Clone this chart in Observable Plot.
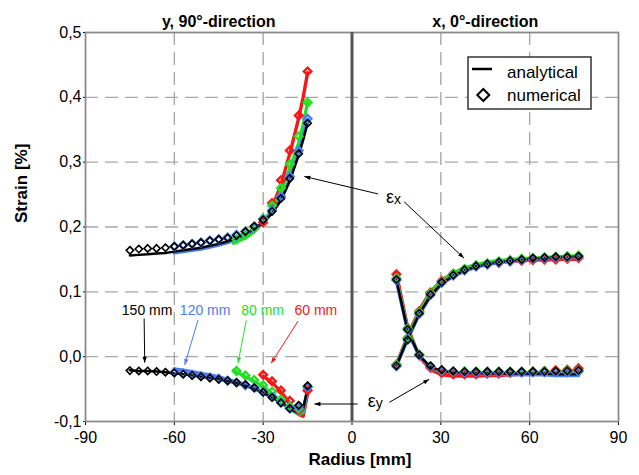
<!DOCTYPE html>
<html><head><meta charset="utf-8">
<script src="https://cdn.jsdelivr.net/npm/d3@7"></script>
<script src="https://cdn.jsdelivr.net/npm/@observablehq/plot@0.6"></script>
<style>
body{margin:0;background:#fff;}
#wrap{position:relative;width:639px;height:475px;}
#legend{position:absolute;left:467px;top:56px;}
</style></head><body>
<div id="wrap"></div>
<script>
// ---------- tick values ----------
const xTicks = [-90, -60, -30, 0, 30, 60, 90];
const yTicks = [-0.1, 0, 0.1, 0.2, 0.3, 0.4, 0.5];
const gridX = [-60, -30, 30, 60];
const gridY = [0, 0.1, 0.2, 0.3, 0.4];
const panelTitles = ["y, 90°-direction", "x, 0°-direction"];
const panelTitleR = [-45, 45];

// ---------- plate sizes ----------
const sizeLabels = ["150 mm", "120 mm", "80 mm", "60 mm"];
const sizeColors = ["#000000", "#4a7df5", "#22e022", "#f51818"];

// ---------- left panel (y, 90°-direction), radius in mm ----------
const rLeftNum150 = [-75,-72,-69,-66,-63,-60,-57,-54,-51,-48,-45,-42,-39,-36,-33,-30,-27,-24,-21,-18,-15];
const exLeftNum150 = [0.164,0.166,0.167,0.167,0.168,0.170,0.172,0.174,0.176,0.179,0.181,0.183,0.187,0.193,0.201,0.211,0.224,0.244,0.275,0.313,0.360];
const eyLeftNum150 = [-0.0215,-0.022,-0.022,-0.023,-0.024,-0.025,-0.027,-0.029,-0.031,-0.033,-0.035,-0.037,-0.040,-0.043,-0.048,-0.055,-0.063,-0.071,-0.080,-0.075,-0.045];
const rLeftAna150 = [-75,-72,-69,-66,-63,-60,-57,-54,-51,-48,-45,-42,-39,-36,-33,-30,-27,-24,-21,-18,-16.5,-15];
const exLeftAna150 = [0.156,0.157,0.158,0.159,0.160,0.162,0.164,0.166,0.168,0.171,0.174,0.178,0.183,0.189,0.197,0.207,0.221,0.241,0.271,0.311,0.334,0.360];
const eyLeftAna150 = [-0.021,-0.022,-0.022,-0.023,-0.024,-0.026,-0.027,-0.029,-0.031,-0.033,-0.035,-0.038,-0.041,-0.045,-0.050,-0.056,-0.063,-0.071,-0.080,-0.087,-0.080,-0.050];

const rLeftNum120 = [-60,-57,-54,-51,-48,-45,-42,-39,-36,-33,-30,-27,-24,-21,-18,-15];
const exLeftNum120 = [0.170,0.172,0.174,0.176,0.179,0.181,0.184,0.188,0.193,0.201,0.212,0.226,0.247,0.278,0.318,0.367];
const eyLeftNum120 = [-0.024,-0.026,-0.028,-0.030,-0.032,-0.034,-0.037,-0.040,-0.044,-0.048,-0.054,-0.062,-0.071,-0.080,-0.077,-0.047];
const rLeftAna120 = [-60,-57,-54,-51,-48,-45,-42,-39,-36,-33,-30,-27,-24,-21,-18,-16.5,-15];
const exLeftAna120 = [0.160,0.162,0.164,0.166,0.169,0.172,0.176,0.181,0.187,0.196,0.207,0.222,0.243,0.274,0.316,0.340,0.366];
const eyLeftAna120 = [-0.019,-0.021,-0.023,-0.026,-0.028,-0.031,-0.035,-0.039,-0.043,-0.048,-0.055,-0.062,-0.071,-0.080,-0.088,-0.082,-0.052];

const rLeftNum80 = [-39,-36,-33,-30,-27,-24,-21,-18,-15];
const exLeftNum80 = [0.181,0.188,0.198,0.213,0.233,0.260,0.297,0.340,0.392];
const eyLeftNum80 = [-0.022,-0.029,-0.036,-0.044,-0.054,-0.066,-0.077,-0.080,-0.046];
const rLeftAna80 = [-40,-36,-33,-30,-27,-24,-21,-18,-16.5,-15];
const exLeftAna80 = [0.175,0.183,0.193,0.207,0.227,0.255,0.290,0.330,0.358,0.392];
const eyLeftAna80 = [-0.021,-0.031,-0.038,-0.046,-0.057,-0.069,-0.081,-0.089,-0.086,-0.050];

const rLeftNum60 = [-30,-27,-24,-21,-18,-15];
const exLeftNum60 = [0.207,0.237,0.272,0.318,0.372,0.440];
const eyLeftNum60 = [-0.028,-0.038,-0.052,-0.068,-0.082,-0.052];
const rLeftAna60 = [-30,-27,-24,-21,-18,-16.5,-15];
const exLeftAna60 = [0.203,0.230,0.265,0.313,0.368,0.400,0.438];
const eyLeftAna60 = [-0.030,-0.040,-0.054,-0.072,-0.089,-0.092,-0.057];

// ---------- right panel (x, 0°-direction) ----------
const rRight = [15,18.8,22.7,26.5,30.3,34.2,38,41.9,45.7,49.6,53.4,57.3,61.1,65,68.8,72.7,76.5];
const exRightAna150 = [-0.014,0.028,0.066,0.094,0.113,0.125,0.133,0.139,0.143,0.146,0.148,0.150,0.151,0.152,0.153,0.154,0.154];
const eyRightAna150 = [0.118,0.040,0.002,-0.016,-0.022,-0.024,-0.025,-0.025,-0.026,-0.026,-0.026,-0.026,-0.026,-0.026,-0.027,-0.027,-0.027];
const exRightNum150 = [-0.014,0.026,0.067,0.096,0.115,0.126,0.134,0.140,0.143,0.146,0.148,0.150,0.152,0.153,0.154,0.154,0.155];
const eyRightNum150 = [0.119,0.042,0.003,-0.014,-0.020,-0.022,-0.023,-0.023,-0.023,-0.023,-0.023,-0.023,-0.023,-0.023,-0.022,-0.022,-0.021];

const exRightAna120 = [-0.015,0.027,0.065,0.093,0.112,0.124,0.132,0.138,0.142,0.145,0.147,0.149,0.150,0.151,0.152,0.153,0.153];
const eyRightAna120 = [0.117,0.039,0.001,-0.017,-0.023,-0.025,-0.026,-0.027,-0.027,-0.027,-0.028,-0.028,-0.028,-0.028,-0.029,-0.029,-0.029];
const exRightNum120 = [-0.015,0.026,0.066,0.095,0.114,0.125,0.133,0.139,0.142,0.145,0.147,0.149,0.151,0.152,0.153,0.153,0.154];
const eyRightNum120 = [0.118,0.041,0.002,-0.015,-0.021,-0.023,-0.024,-0.024,-0.024,-0.024,-0.024,-0.024,-0.024,-0.024,-0.024,-0.024,-0.023];

const exRightAna80 = [-0.013,0.030,0.069,0.098,0.117,0.129,0.137,0.142,0.146,0.148,0.150,0.151,0.152,0.153,0.154,0.155,0.155];
const eyRightAna80 = [0.120,0.041,0.002,-0.017,-0.023,-0.025,-0.025,-0.025,-0.025,-0.025,-0.025,-0.025,-0.025,-0.025,-0.025,-0.025,-0.025];
const exRightNum80 = [-0.013,0.028,0.068,0.097,0.116,0.127,0.135,0.141,0.144,0.147,0.149,0.151,0.152,0.153,0.154,0.155,0.156];
const eyRightNum80 = [0.121,0.043,0.003,-0.015,-0.021,-0.023,-0.023,-0.023,-0.023,-0.023,-0.023,-0.023,-0.023,-0.023,-0.023,-0.022,-0.021];

const exRightAna60 = [-0.012,0.032,0.072,0.100,0.118,0.129,0.136,0.141,0.144,0.146,0.147,0.148,0.149,0.149,0.150,0.150,0.150];
const eyRightAna60 = [0.128,0.045,0.000,-0.020,-0.028,-0.030,-0.030,-0.030,-0.029,-0.029,-0.028,-0.027,-0.026,-0.025,-0.024,-0.023,-0.021];
const exRightNum60 = [-0.012,0.029,0.070,0.099,0.117,0.128,0.135,0.140,0.143,0.145,0.147,0.148,0.149,0.150,0.150,0.151,0.152];
const eyRightNum60 = [0.127,0.044,0.002,-0.017,-0.025,-0.027,-0.027,-0.027,-0.026,-0.026,-0.025,-0.024,-0.023,-0.022,-0.021,-0.020,-0.018];

// ---------- annotations (data units) ----------
const labelR = [-69.2, -49.6, -30.2, -12.2];
const labelS = [0.071, 0.071, 0.071, 0.071];
const sizeArrowR1 = [-70.2, -52.0, -35.7, -18.2];
const sizeArrowS1 = [0.059, 0.0566, 0.056, 0.055];
const sizeArrowR2 = [-70.0, -56.5, -38.5, -27.3];
const sizeArrowS2 = [-0.0093, -0.0128, -0.0102, -0.0102];

const strainSymbols = ["ε", "ε"];
const strainSubs = ["x", "y"];
const strainR = [12.8, 6.7];
const strainS = [0.2465, -0.068];
const strainArrowR1 = [8.8, 17.6, 12.6, 1.9];
const strainArrowS1 = [0.251, 0.239, -0.0704, -0.073];
const strainArrowR2 = [-16.1, 37.8, 26.1, -12.7];
const strainArrowS2 = [0.278, 0.152, -0.0349, -0.073];

const legendLabels = ["analytical", "numerical"];

// ---------- build tables ----------
const FONT = "'Liberation Sans', Arial, Helvetica, sans-serif";
function pts(r, s, part) { return r.map((x, i) => ({r: x, s: s[i], part})); }

const groups = [
  {i: 0, ana: [...pts(rLeftAna150, exLeftAna150, "Lx"), ...pts(rLeftAna150, eyLeftAna150, "Ly"), ...pts(rRight, exRightAna150, "Rx"), ...pts(rRight, eyRightAna150, "Ry")],
          num: [...pts(rLeftNum150, exLeftNum150), ...pts(rLeftNum150, eyLeftNum150), ...pts(rRight, exRightNum150), ...pts(rRight, eyRightNum150)]},
  {i: 1, ana: [...pts(rLeftAna120, exLeftAna120, "Lx"), ...pts(rLeftAna120, eyLeftAna120, "Ly"), ...pts(rRight, exRightAna120, "Rx"), ...pts(rRight, eyRightAna120, "Ry")],
          num: [...pts(rLeftNum120, exLeftNum120), ...pts(rLeftNum120, eyLeftNum120), ...pts(rRight, exRightNum120), ...pts(rRight, eyRightNum120)]},
  {i: 2, ana: [...pts(rLeftAna80, exLeftAna80, "Lx"), ...pts(rLeftAna80, eyLeftAna80, "Ly"), ...pts(rRight, exRightAna80, "Rx"), ...pts(rRight, eyRightAna80, "Ry")],
          num: [...pts(rLeftNum80, exLeftNum80), ...pts(rLeftNum80, eyLeftNum80), ...pts(rRight, exRightNum80), ...pts(rRight, eyRightNum80)]},
  {i: 3, ana: [...pts(rLeftAna60, exLeftAna60, "Lx"), ...pts(rLeftAna60, eyLeftAna60, "Ly"), ...pts(rRight, exRightAna60, "Rx"), ...pts(rRight, eyRightAna60, "Ry")],
          num: [...pts(rLeftNum60, exLeftNum60), ...pts(rLeftNum60, eyLeftNum60), ...pts(rRight, exRightNum60), ...pts(rRight, eyRightNum60)]}
];
const drawOrder = [3, 2, 1, 0]; // red, green, blue, black on top

const lineMarks = drawOrder.map(k => Plot.line(groups[k].ana, {
  x: "r", y: "s", z: "part", stroke: sizeColors[k], strokeWidth: k === 0 ? 2.5 : 3.4, curve: "linear"
}));
const dotMarks = drawOrder.map(k => Plot.dot(groups[k].num, {
  x: "r", y: "s", symbol: "diamond2", r: k === 0 ? 3.3 : 3.4,
  stroke: sizeColors[k], strokeWidth: k === 0 ? 1.6 : 2.4, fill: "none"
}));

const annotMarks = [];
sizeLabels.forEach((lab, k) => {
  annotMarks.push(Plot.link([k], {
    x1: i => sizeArrowR1[i], y1: i => sizeArrowS1[i], x2: i => sizeArrowR2[i], y2: i => sizeArrowS2[i],
    stroke: sizeColors[k], strokeWidth: 1, markerEnd: "arrow"
  }));
  annotMarks.push(Plot.text([lab], {
    x: [labelR[k]], y: [labelS[k]], text: d => d, fill: sizeColors[k], fontSize: 14
  }));
});
annotMarks.push(Plot.link(strainArrowR1.map((_, i) => i), {
  x1: i => strainArrowR1[i], y1: i => strainArrowS1[i], x2: i => strainArrowR2[i], y2: i => strainArrowS2[i],
  stroke: "#000", strokeWidth: 1, markerEnd: "arrow"
}));
annotMarks.push(Plot.text(strainSymbols, {x: strainR, y: strainS, text: d => d, fontSize: 18, fill: "#000"}));
annotMarks.push(Plot.text(strainSubs, {x: strainR, y: strainS, text: d => d, fontSize: 14, dx: 7.5, dy: 3, fill: "#000"}));

const plot = Plot.plot({
  width: 639, height: 475,
  marginTop: 32, marginRight: 21, marginBottom: 54, marginLeft: 85,
  style: {fontFamily: FONT, fontSize: "16px", color: "#000", background: "white", overflow: "visible"},
  x: {domain: [-90, 90], ticks: xTicks, tickFormat: d => String(d), tickSize: 4, tickPadding: 6, label: null},
  y: {domain: [-0.1, 0.5], ticks: yTicks, tickFormat: d => d.toFixed(1).replace(".", ","), tickSize: 2, tickPadding: 2, label: null},
  marks: [
    Plot.ruleX(gridX, {stroke: "#a8a8a8", strokeWidth: 1.4, strokeDasharray: "13,7"}),
    Plot.ruleY(gridY, {stroke: "#a8a8a8", strokeWidth: 1.4, strokeDasharray: "13,7"}),
    Plot.frame({stroke: "#8a8a8a", strokeWidth: 1.8}),
    Plot.ruleX([0], {stroke: "#555", strokeWidth: 3}),
    ...lineMarks,
    ...dotMarks,
    ...annotMarks,
    Plot.text(panelTitles, {x: panelTitleR, frameAnchor: "top", dy: -16.5, text: d => d, fontSize: 16, fontWeight: "bold", fill: "#000"}),
    Plot.text(["Radius [mm]"], {frameAnchor: "bottom", dx: 8, dy: 43, text: d => d, fontSize: 17, fontWeight: "bold", fill: "#000"}),
    Plot.text(["Strain [%]"], {frameAnchor: "left", dx: -64, dy: -4, rotate: -90, text: d => d, fontSize: 17, fontWeight: "bold", fill: "#000"})
  ]
});

// filled arrow heads
plot.querySelectorAll("marker").forEach(m => {
  const c = m.getAttribute("stroke") || "#000";
  m.setAttribute("viewBox", "-10 -5 11 10");
  m.setAttribute("markerWidth", 7.33);
  m.setAttribute("markerHeight", 6.67);
  m.setAttribute("fill", c);
  m.setAttribute("stroke", "none");
  const p = m.querySelector("path");
  if (p) p.setAttribute("d", "M-9,-3.3L0,0L-9,3.3Z");
});

const wrap = document.getElementById("wrap");
wrap.appendChild(plot);

// legend box
const ns = "http://www.w3.org/2000/svg";
const lg = document.createElementNS(ns, "svg");
lg.setAttribute("id", "legend");
lg.setAttribute("width", 126); lg.setAttribute("height", 55);
lg.innerHTML = `
  <rect x="1" y="1" width="123" height="52" fill="white" stroke="#333" stroke-width="1.5"/>
  <line x1="5" x2="25" y1="13" y2="13" stroke="#000" stroke-width="2.5"/>
  <path d="M16.3,33 L22.3,39 L16.3,45 L10.3,39 Z" fill="none" stroke="#000" stroke-width="2"/>`;
legendLabels.forEach((t, i) => {
  const tx = document.createElementNS(ns, "text");
  tx.setAttribute("x", 40); tx.setAttribute("y", i === 0 ? 21.5 : 44.5);
  tx.setAttribute("font-family", FONT); tx.setAttribute("font-size", 17);
  tx.textContent = t;
  lg.appendChild(tx);
});
wrap.appendChild(lg);
</script>
</body></html>
